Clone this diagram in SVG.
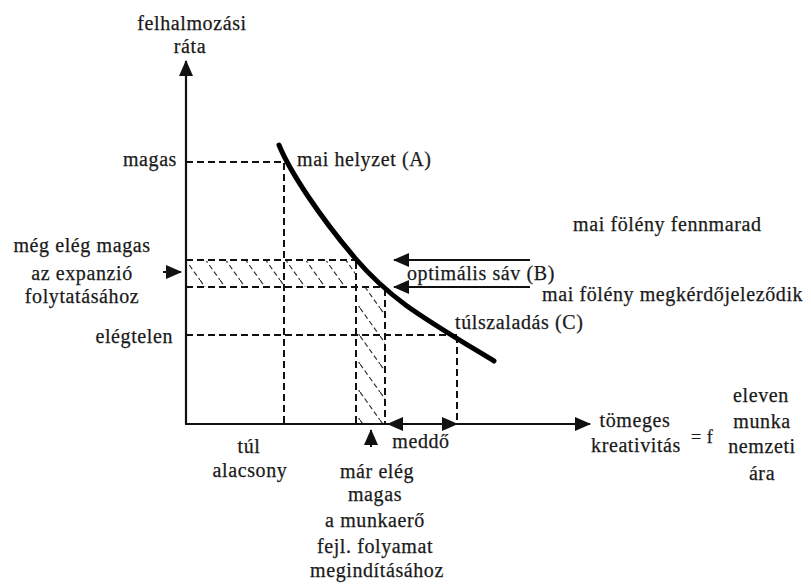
<svg xmlns="http://www.w3.org/2000/svg" width="811" height="585" viewBox="0 0 811 585" font-family="'Liberation Serif', 'Times New Roman', serif">
<style>
text{font-family:'Liberation Serif','Times New Roman',serif;font-size:20px;fill:#1a1a1a;letter-spacing:0.6px;stroke:#1a1a1a;stroke-width:0.25}
.m{text-anchor:middle}
.e{text-anchor:end}
.ax{stroke:#111;stroke-width:2.2;fill:none}
.da{stroke:#111;stroke-width:2;fill:none;stroke-dasharray:7 4}
.ar{stroke:#111;stroke-width:2;fill:none}
.cv{stroke:#000;stroke-width:5;fill:none;stroke-linecap:round}
</style>
<defs>
<marker id="ah" markerUnits="userSpaceOnUse" markerWidth="16" markerHeight="14" refX="15" refY="7" orient="auto-start-reverse">
<path d="M0,0 L16,7 L0,14 z" fill="#111"/>
</marker>
<pattern id="hatch" patternUnits="userSpaceOnUse" width="20" height="28">
<line x1="0" y1="0" x2="20" y2="28" stroke="#333" stroke-width="1.2" stroke-dasharray="5 3"/>
</pattern>
</defs>
<rect width="811" height="585" fill="#fff"/>

<g id="hatched-areas">
<rect x="188" y="261" width="167" height="26" fill="url(#hatch)"/>
<rect x="357" y="288" width="28" height="135" fill="url(#hatch)"/>
</g>

<g id="connectors">
<line class="ax" x1="186" y1="424" x2="186" y2="61" marker-end="url(#ah)"/>
<line class="ax" x1="185" y1="424" x2="590" y2="424" marker-end="url(#ah)"/>
<line class="da" x1="186" y1="162" x2="282" y2="162"/>
<line class="da" x1="284" y1="163" x2="284" y2="423"/>
<line class="da" x1="186" y1="260" x2="355" y2="260"/>
<line class="da" x1="186" y1="287" x2="386" y2="287"/>
<line class="da" x1="186" y1="335" x2="457" y2="335"/>
<line class="da" x1="356" y1="262" x2="356" y2="423"/>
<line class="da" x1="385" y1="289" x2="385" y2="423"/>
<line class="da" x1="457" y1="336" x2="457" y2="423"/>
<line class="ar" x1="530" y1="260" x2="394" y2="260" marker-end="url(#ah)"/>
<line class="ar" x1="530" y1="287" x2="394" y2="287" marker-end="url(#ah)"/>
<line class="ar" x1="163" y1="272" x2="181" y2="272" marker-end="url(#ah)"/>
<line class="ar" x1="371" y1="447" x2="371" y2="430" marker-end="url(#ah)"/>
<line class="ar" x1="388" y1="424" x2="457" y2="424" marker-start="url(#ah)" marker-end="url(#ah)"/>
</g>

<g id="curve">
<path class="cv" d="M279,145 C290,172 320,217 355,258 S420,316 494,361"/>
</g>

<g id="y-axis-label">
<text class="m" x="192" y="30">felhalmozási</text>
<text class="m" x="190" y="53">ráta</text>
</g>
<g id="label-magas"><text class="e" x="177" y="166">magas</text></g>
<g id="label-A"><text x="297" y="166">mai helyzet (A)</text></g>
<g id="label-fennmarad"><text x="573" y="231">mai fölény fennmarad</text></g>
<g id="label-B"><text x="407" y="280">optimális sáv (B)</text></g>
<g id="label-megkerdojelezodik"><text x="542" y="301">mai fölény megkérdőjeleződik</text></g>
<g id="label-C"><text x="455" y="329">túlszaladás (C)</text></g>
<g id="label-expanzio">
<text class="m" x="82" y="252">még elég magas</text>
<text class="m" x="82" y="280">az expanzió</text>
<text class="m" x="82" y="303">folytatásához</text>
</g>
<g id="label-elegtelen"><text class="e" x="173" y="343">elégtelen</text></g>
<g id="label-tul-alacsony">
<text class="m" x="249" y="453">túl</text>
<text class="m" x="250" y="477">alacsony</text>
</g>
<g id="label-meddo"><text class="m" x="421" y="448">meddő</text></g>
<g id="label-mar-eleg">
<text class="m" x="377" y="478">már elég</text>
<text class="m" x="375" y="501">magas</text>
<text class="m" x="375" y="527">a munkaerő</text>
<text class="m" x="375" y="553">fejl. folyamat</text>
<text class="m" x="377" y="577">megindításához</text>
</g>
<g id="x-axis-label">
<text class="m" x="635" y="427">tömeges</text>
<text class="m" x="636" y="452">kreativitás</text>
<text x="691" y="443" style="font-size:18px">= f</text>
<text class="m" x="761" y="402">eleven</text>
<text class="m" x="762" y="428">munka</text>
<text class="m" x="762" y="453">nemzeti</text>
<text class="m" x="762" y="480">ára</text>
</g>
</svg>
